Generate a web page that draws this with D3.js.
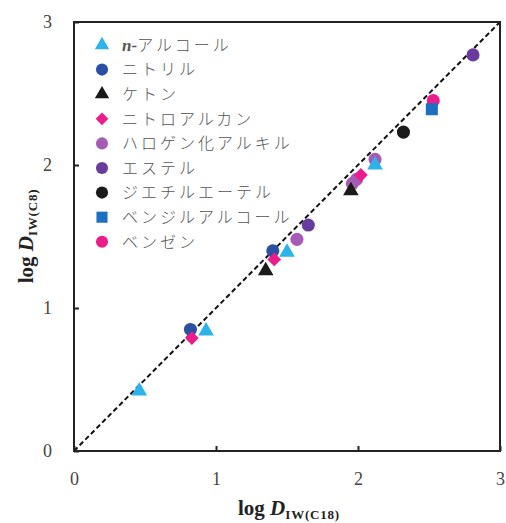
<!DOCTYPE html>
<html><head><meta charset="utf-8">
<script src="https://cdn.jsdelivr.net/npm/d3@7"></script>
<style>
html,body{margin:0;padding:0;background:#fff;}
svg{display:block;}
</style></head>
<body>
<svg id="chart" width="506" height="523"></svg>
<script>
// ---- data ----
const seriesNames = ["n-アルコール","ニトリル","ケトン","ニトロアルカン","ハロゲン化アルキル","エステル","ジエチルエーテル","ベンジルアルコール","ベンゼン"];
const seriesShapes = ["triangle","circle","triangle","diamond","circle","circle","circle","square","circle"];
const seriesColors = ["#2bb3ea","#2b50a3","#1a1a1a","#ec1c8c","#a65cb6","#6a3b9e","#1a1a1a","#1c6fc1","#ec1c8c"];
const alcoholX = [0.46,0.93,1.50,2.12];
const alcoholY = [0.42,0.84,1.39,2.00];
const nitrileX = [0.82,1.40];
const nitrileY = [0.85,1.40];
const ketoneX = [1.35,1.95];
const ketoneY = [1.26,1.82];
const nitroX = [0.83,1.41,2.02];
const nitroY = [0.79,1.34,1.93];
const haloX = [1.57,1.96,1.99,2.12];
const haloY = [1.48,1.87,1.90,2.04];
const esterX = [1.65,2.81];
const esterY = [1.58,2.77];
const etherX = [2.32];
const etherY = [2.23];
const benzylX = [2.52];
const benzylY = [2.39];
const benzeneX = [2.53];
const benzeneY = [2.45];
const seriesX = [alcoholX,nitrileX,ketoneX,nitroX,haloX,esterX,etherX,benzylX,benzeneX];
const seriesY = [alcoholY,nitrileY,ketoneY,nitroY,haloY,esterY,etherY,benzylY,benzeneY];
const drawOrder = [8,7,6,5,4,0,1,3,2];
const tickValues = [0,1,2,3];
const xTitle = "log ", xVar = "D", xSub = "IW(C18)";
const yTitle = "log ", yVar = "D", ySub = "IW(C8)";

// ---- layout ----
const svg = d3.select("#chart");
const L = 74, R = 500, T = 22, B = 451;
const x = d3.scaleLinear().domain([0,3]).range([L,R]);
const y = d3.scaleLinear().domain([0,3]).range([B,T]);

function symbolPath(shape, scale){
  const s = scale || 1;
  if (shape === "circle") return d3.symbol().type(d3.symbolCircle).size(135*s)();
  if (shape === "triangle") return d3.symbol().type(d3.symbolTriangle).size(105*s)();
  if (shape === "square") return d3.symbol().type(d3.symbolSquare).size(145*s)();
  if (shape === "diamond") return d3.symbol().type(d3.symbolSquare).size(95*s)();
}
function symbolTransform(shape, px, py){
  return shape === "diamond" ? `translate(${px},${py}) rotate(45)` : `translate(${px},${py})`;
}

// axes
const xAxis = d3.axisBottom(x).tickValues(tickValues).tickFormat(d3.format("d")).tickSizeInner(-5).tickSizeOuter(0).tickPadding(21);
const yAxis = d3.axisLeft(y).tickValues(tickValues).tickFormat(d3.format("d")).tickSizeInner(-5).tickSizeOuter(0).tickPadding(22);
const gx = svg.append("g").attr("transform",`translate(0,${B})`).call(xAxis);
const gy = svg.append("g").attr("transform",`translate(${L},0)`).call(yAxis);
[gx,gy].forEach(g=>{
  g.attr("font-family","'Liberation Serif', serif");
  g.select(".domain").remove();
  g.selectAll(".tick line").attr("stroke","#222").attr("stroke-width",2);
  g.selectAll(".tick text").attr("font-family","'Liberation Serif', serif").attr("font-size",18).attr("fill","#444");
});

// diagonal
svg.append("line")
  .attr("x1",x(0)).attr("y1",y(0)).attr("x2",x(3)).attr("y2",y(3))
  .attr("stroke","#111").attr("stroke-width",2).attr("stroke-dasharray","5,3");

// frame
svg.append("rect").attr("x",L).attr("y",T).attr("width",R-L).attr("height",B-T)
  .attr("fill","none").attr("stroke","#222").attr("stroke-width",2);

// points
drawOrder.forEach(i=>{
  const pts = seriesX[i].map((v,j)=>[v, seriesY[i][j]]);
  svg.append("g").selectAll("path").data(pts).join("path")
    .attr("d", symbolPath(seriesShapes[i]))
    .attr("transform", d=>symbolTransform(seriesShapes[i], x(d[0]), y(d[1])))
    .attr("fill", seriesColors[i]);
});

// legend
const lg = svg.append("g");
seriesNames.forEach((name,i)=>{
  const yy = 45 + i*24.6;
  lg.append("path").attr("d", symbolPath(seriesShapes[i], 0.85))
    .attr("transform", symbolTransform(seriesShapes[i], 102, yy))
    .attr("fill", seriesColors[i]);
  const t = lg.append("text").attr("x",122).attr("y",yy).attr("dy","0.36em")
    .attr("font-family","'Noto Sans CJK JP', sans-serif").attr("font-size",16)
    .attr("font-weight",300).attr("letter-spacing","3px").attr("fill","#555");
  if (name.startsWith("n-")) {
    t.append("tspan").text("n-").attr("font-family","'Liberation Serif', serif")
      .attr("font-style","italic").attr("font-weight","bold").attr("letter-spacing","0px").attr("font-size",17);
    t.append("tspan").text(name.slice(2));
  } else {
    t.text(name);
  }
});

// axis titles
function title(g, a, b, c){
  const t = g.append("text").attr("text-anchor","middle")
    .attr("font-family","'Liberation Serif', serif").attr("font-weight","bold").attr("fill","#222").attr("font-size",21);
  t.append("tspan").text(a);
  t.append("tspan").text(b).attr("font-style","italic");
  t.append("tspan").text(c).attr("font-size",13).attr("dy",4).attr("letter-spacing","0.8px");
  return t;
}
title(svg.append("g").attr("transform","translate(289,515)"), xTitle, xVar, xSub);
title(svg.append("g").attr("transform","translate(33,236) rotate(-90)"), yTitle, yVar, ySub);
</script>
</body></html>
